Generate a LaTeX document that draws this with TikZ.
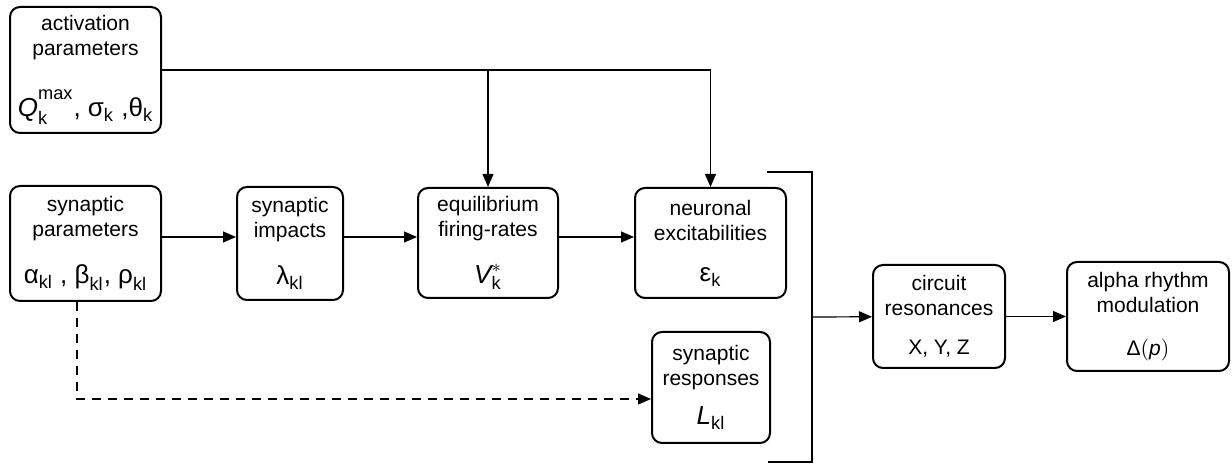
\documentclass[tikz,border=0pt]{standalone}
\usepackage{fontspec}
\setmainfont{Liberation Sans}
\usepackage{amsmath}
\usetikzlibrary{arrows.meta,positioning}

% symbols line of each box
\newcommand{\symline}[1]{{\fontsize{13}{15}\selectfont$#1$}}
\newcommand{\tx}[1]{\text{#1}}

\tikzset{
  block/.style={draw, line width=1pt, rounded corners=5pt, align=center,
    inner sep=0pt, font=\fontsize{10.5}{12.5}\selectfont},
  link/.style={line width=0.6pt, -{Triangle[length=6.5pt,width=5.5pt]}},
}

\begin{document}
\begin{tikzpicture}[x=0.5pt, y=-0.5pt]
    \useasboundingbox (0,0) rectangle (1232,464);

    \node[block, minimum width=75.5pt, minimum height=63pt] (act) at (85.5,70)
        {activation\\parameters\\[14pt]\symline{\tx{\itshape Q}^{\raise2.5pt\hbox{$\scriptstyle\tx{max}$}}_{\lower1pt\hbox{$\scriptstyle\tx{k}$}}\tx{, }\tx{σ}_{\tx{k}}\tx{ ,}\tx{θ}_{\tx{k}}}};
    \node[block, minimum width=75.5pt, minimum height=57.5pt] (synp) at (85.5,243.5)
        {synaptic\\parameters\\[11pt]\symline{\tx{α}_{\tx{kl}}\tx{ , }\tx{β}_{\tx{kl}}\tx{, }\tx{ρ}_{\tx{kl}}}};
    \node[block, minimum width=53pt, minimum height=56.5pt] (imp) at (290,243.5)
        {synaptic\\impacts\\[11pt]\symline{\tx{λ}_{\tx{kl}}}};
    \node[block, minimum width=70pt, minimum height=55pt] (equ) at (488,243)
        {equilibrium\\firing-rates\\[11pt]\symline{\tx{\itshape V}^{*}_{\tx{k}}}};
    \node[block, minimum width=75.5pt, minimum height=55pt] (neu) at (710.5,243)
        {neuronal\\excitabilities\\[8pt]\symline{\tx{ε}_{\tx{k}}}};
    \node[block, minimum width=59pt, minimum height=55.5pt] (resp) at (711,387.5)
        {synaptic\\responses\\[7pt]\symline{\tx{\itshape L}_{\tx{kl}}}};
    \node[block, minimum width=66pt, minimum height=51.5pt] (circ) at (939,316.5)
        {circuit\\resonances\\[7pt]X, Y, Z};
    \node[block, minimum width=81pt, minimum height=54.5pt] (alpha) at (1148,316.5)
        {alpha rhythm\\modulation\\[9pt]$\tx{Δ}(\tx{\itshape p})$};

    % grouping bracket
    \coordinate (btop) at (767,172);
    \coordinate (bbot) at (768,462);
    \coordinate (brk) at (812,317);
    \draw[line width=1pt] (btop) -- (brk |- btop) -- (brk |- bbot) -- (bbot);

    \draw[link] (act.east) -| (equ.north);
    \draw[link] (act.east) -| (neu.north);
    \draw[link] ([yshift=3.25pt]synp.east) -- ([yshift=3.25pt]imp.west);
    \draw[link] ([yshift=3.25pt]imp.east) -- ([yshift=3pt]equ.west);
    \draw[link] ([yshift=3pt]equ.east) -- ([yshift=3pt]neu.west);
    \draw[link, dash pattern=on 4.5pt off 3.5pt] ([xshift=-4.25pt]synp.south) |- ([yshift=-5.75pt]resp.west);
    \draw[link] (brk) -- (circ);
    \draw[link] (circ) -- (alpha);
\end{tikzpicture}
\end{document}
